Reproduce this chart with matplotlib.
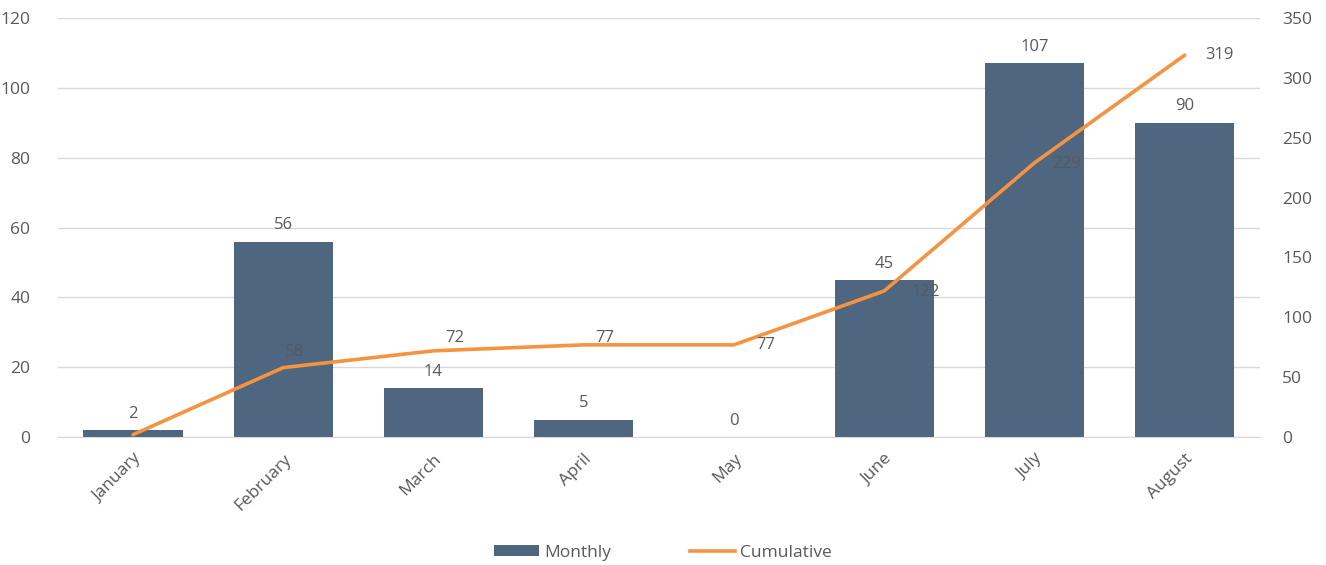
import numpy as np
import matplotlib
matplotlib.use('Agg')
import matplotlib.pyplot as plt
import matplotlib.ticker as ticker
from matplotlib.lines import Line2D
from matplotlib.patches import Patch

plt.rcParams['font.family'] = ['Open Sans', 'DejaVu Sans']

months = ['January', 'February', 'March', 'April', 'May', 'June', 'July', 'August']
monthly = [2, 56, 14, 5, 0, 45, 107, 90]
cumulative = [2, 58, 72, 77, 77, 122, 229, 319]

bar_color = '#4e6680'
line_color = '#f5933f'
text_color = '#595959'
grid_color = '#d9d9d9'

fig = plt.figure(figsize=(13.26, 5.65), dpi=100)
ax = fig.add_axes([0.0437, 0.2265, 0.9063, 0.7415])
ax2 = ax.twinx()

x = np.arange(len(months))
ax.bar(x, monthly, width=0.66, color=bar_color, zorder=2)
for xi, v in zip(x, monthly):
    ax.annotate(str(v), (xi, v), xytext=(0, 6), textcoords='offset points',
                ha='center', va='bottom', fontsize=12, color=text_color)

ax2.plot(x, cumulative, color=line_color, linewidth=2.6, solid_capstyle='round', zorder=3)
# label offsets (points) roughly as placed in the original
offs = [(8, 4), (8, 11), (15, 9), (15, 5), (23, 0), (30, -1), (23, -1), (25, 0)]
for xi, v, (dx, dy) in zip(x, cumulative, offs):
    if xi == 0:
        continue
    ax2.annotate(str(v), (xi, v), xytext=(dx, dy), textcoords='offset points',
                 ha='center', va='center', fontsize=12, color=text_color)

ax.set_xlim(-0.5, 7.5)
ax.set_ylim(0, 120)
ax2.set_ylim(0, 350)
ax.yaxis.set_major_locator(ticker.MultipleLocator(20))
ax2.yaxis.set_major_locator(ticker.MultipleLocator(50))

ax.set_xticks(x)
ax.set_xticklabels(months, rotation=45, ha='right', rotation_mode='anchor')
ax.grid(axis='y', color=grid_color, linewidth=1, zorder=0)
ax.set_axisbelow(True)

for a in (ax, ax2):
    for s in a.spines.values():
        s.set_visible(False)
    a.tick_params(length=0, colors=text_color, labelsize=12.5)
ax.spines['bottom'].set_visible(True)
ax.spines['bottom'].set_color(grid_color)
ax.tick_params(axis='y', pad=20)
ax2.tick_params(axis='y', pad=16)
ax.tick_params(axis='x', pad=10)

handles = [Patch(facecolor=bar_color, label='Monthly'),
           Line2D([0], [0], color=line_color, linewidth=2.6, label='Cumulative')]
fig.legend(handles=handles, loc='center', bbox_to_anchor=(0.5, 0.022), ncol=2,
           frameon=False, fontsize=12.5, labelcolor=text_color, columnspacing=4.5,
           handlelength=2.6, handleheight=0.6, handletextpad=0.3)

fig.savefig('out.png', dpi=100)
